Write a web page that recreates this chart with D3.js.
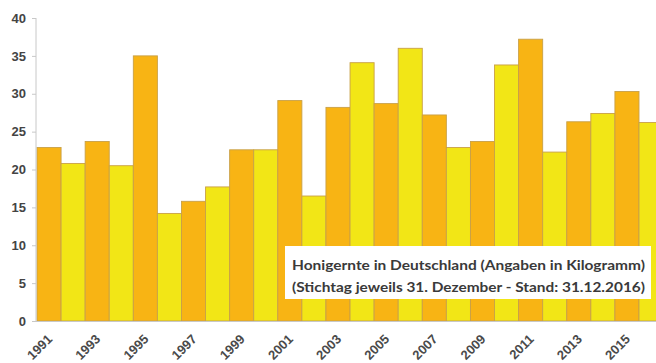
<!DOCTYPE html>
<html>
<head>
<meta charset="utf-8">
<script src="https://cdn.jsdelivr.net/npm/d3@7"></script>
<style>
html,body{margin:0;padding:0;background:#fff;overflow:hidden;}
svg{display:block;}
</style>
</head>
<body>
<svg id="chart" width="656" height="363"></svg>
<script>
const years = ["1991","1992","1993","1994","1995","1996","1997","1998","1999","2000","2001","2002","2003","2004","2005","2006","2007","2008","2009","2010","2011","2012","2013","2014","2015","2016"];
const values = [22.9,20.8,23.7,20.5,35.0,14.2,15.8,17.7,22.6,22.6,29.1,16.5,28.2,34.1,28.7,36.0,27.2,22.9,23.7,33.8,37.2,22.3,26.3,27.4,30.3,26.2];
const yTicks = [0,5,10,15,20,25,30,35,40];
const xLabels = ["1991","1993","1995","1997","1999","2001","2003","2005","2007","2009","2011","2013","2015"];
const titleLines = ["Honigernte in Deutschland (Angaben in Kilogramm)","(Stichtag jeweils 31. Dezember - Stand: 31.12.2016)"];

const svg = d3.select("#chart");
const x0 = 37, step = 24.08;
const x = d3.scaleBand().domain(years).range([x0, x0 + step*years.length]).padding(0);
const y = d3.scaleLinear().domain([0,40]).range([321,18]);

// bars
svg.append("g").selectAll("rect").data(years).join("rect")
  .attr("x", d => x(d))
  .attr("y", (d,i) => y(values[i]))
  .attr("width", x.bandwidth())
  .attr("height", (d,i) => y(0) - y(values[i]))
  .attr("fill", (d,i) => i % 2 === 0 ? "#F8B414" : "#F2E616")
  .attr("stroke", "#c8a048")
  .attr("stroke-width", 0.9);

// y axis
const yAxis = svg.append("g").attr("transform","translate(36,0)")
  .call(d3.axisLeft(y).tickValues(yTicks).tickSize(4).tickPadding(6));
yAxis.select(".domain").attr("stroke","#c8c8c8").attr("d","M-0,18V321");
yAxis.selectAll(".tick line").attr("stroke","#c8c8c8");
yAxis.selectAll(".tick text").attr("fill","#444").attr("font-family","Liberation Sans, Arial, sans-serif")
  .attr("font-size",13).attr("font-weight","bold");

// baseline
svg.append("line").attr("x1",36).attr("x2",656).attr("y1",y(0)+0.5).attr("y2",y(0)+0.5)
  .attr("stroke","#c8c8c8").attr("stroke-width",1);

// x labels
svg.append("g").selectAll("text").data(xLabels).join("text")
  .attr("transform", d => `translate(${x(d)+x.bandwidth()/2+4},${y(0)+19}) rotate(-45)`)
  .attr("text-anchor","end")
  .attr("fill","#4a4a4a")
  .attr("font-family","Liberation Sans, Arial, sans-serif")
  .attr("font-size",13).attr("font-weight","bold")
  .text(d => d);

// title box
svg.append("rect").attr("x",285).attr("y",246).attr("width",366).attr("height",53).attr("fill","#fff");
svg.append("g").selectAll("text").data(titleLines).join("text")
  .attr("x",292).attr("y",(d,i)=> 270 + i*22)
  .attr("fill","#3a3a3a")
  .attr("font-family","Lato, Open Sans, sans-serif")
  .attr("font-size",13).attr("font-weight","bold")
  .attr("textLength",353).attr("lengthAdjust","spacingAndGlyphs")
  .text(d => d);
</script>
</body>
</html>
